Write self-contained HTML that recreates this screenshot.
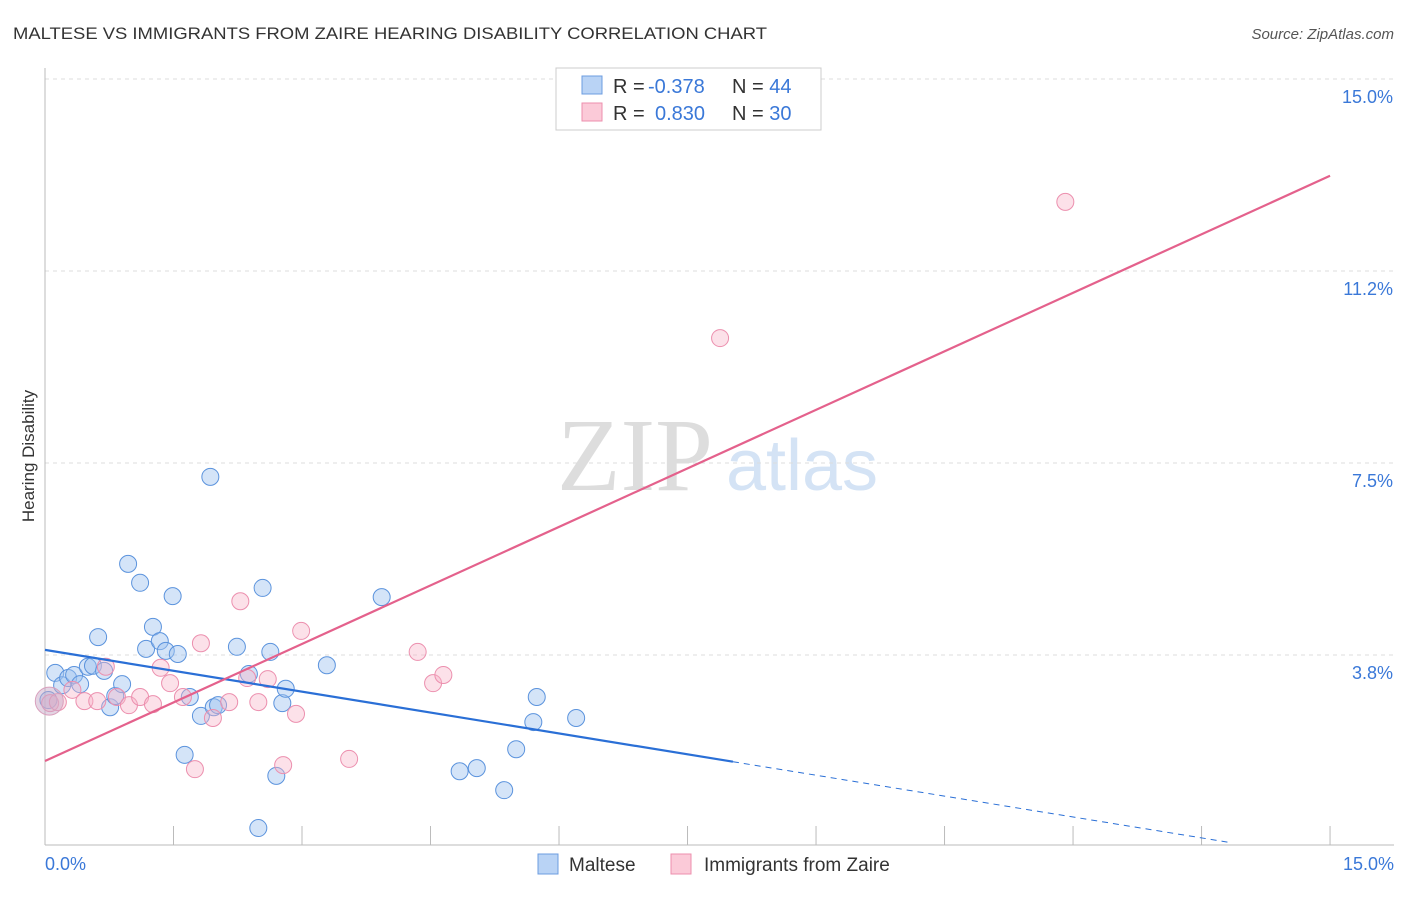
<!DOCTYPE html>
<html><head><meta charset="utf-8"><style>
body{margin:0;background:#fff;font-family:"Liberation Sans",sans-serif;}
</style></head><body>
<svg width="1406" height="892" xmlns="http://www.w3.org/2000/svg">
<text x="13" y="39" font-size="17" fill="#333" textLength="754" lengthAdjust="spacingAndGlyphs">MALTESE VS IMMIGRANTS FROM ZAIRE HEARING DISABILITY CORRELATION CHART</text>
<text x="1394" y="39" font-size="15" fill="#555" text-anchor="end" font-style="italic">Source: ZipAtlas.com</text>
<text x="635" y="490" font-size="104" fill="#ddd" font-family="Liberation Serif,serif" text-anchor="middle">ZIP</text>
<text x="802" y="490" font-size="72" fill="#d4e3f5" text-anchor="middle">atlas</text>
<g id="grid"></g>
<line x1="45" y1="68" x2="45" y2="845" stroke="#bbb"/>
<line x1="45" y1="845" x2="1394" y2="845" stroke="#bbb"/>
<g id="xticks"></g>
<text x="45" y="870" font-size="18" fill="#3a78d8">0.0%</text>
<text x="1394" y="870" font-size="18" fill="#3a78d8" text-anchor="end">15.0%</text>
<text transform="translate(34,456) rotate(-90)" font-size="17" fill="#333" text-anchor="middle">Hearing Disability</text>
<g id="pts"></g>
<g id="lines"></g>
<g>
<rect x="556" y="68" width="265" height="62" fill="#fff" stroke="#ccc"/>
<rect x="582" y="76" width="20" height="18" fill="#b9d3f5" stroke="#6c9de0"/>
<rect x="582" y="103" width="20" height="18" fill="#fbcad8" stroke="#ec8fae"/>
<text x="613" y="93" font-size="20" fill="#333">R = <tspan x="648" fill="#3a78d8">-0.378</tspan><tspan x="732">N = </tspan><tspan fill="#3a78d8">44</tspan></text>
<text x="613" y="120" font-size="20" fill="#333">R = <tspan x="655" fill="#3a78d8">0.830</tspan><tspan x="732">N = </tspan><tspan fill="#3a78d8">30</tspan></text>
</g>
<g>
<rect x="538" y="854" width="20" height="20" fill="#b9d3f5" stroke="#6c9de0"/>
<text x="569" y="871" font-size="19" fill="#333">Maltese</text>
<rect x="671" y="854" width="20" height="20" fill="#fbcad8" stroke="#ec8fae"/>
<text x="704" y="871" font-size="19" fill="#333">Immigrants from Zaire</text>
</g>
</svg>
<script>
const yTicks=[3.8,7.5,11.2,15.0];
const yTickVals=[3.75,7.5,11.25,15];
const blueX=[0.12,0.20,0.27,0.34,0.41,0.50,0.56,0.62,0.69,0.76,0.82,0.90,0.97,1.11,1.18,1.26,1.34,1.41,1.49,1.55,1.63,1.69,1.82,1.93,1.97,2.02,2.24,2.38,2.49,2.54,2.63,2.70,2.77,2.81,3.29,3.93,4.84,5.04,5.36,5.50,5.70,5.74,6.20,0.04];
const blueY=[3.40,3.16,3.30,3.36,3.18,3.52,3.54,4.10,3.44,2.73,2.95,3.18,5.53,5.16,3.87,4.30,4.02,3.83,4.90,3.77,1.80,2.93,2.56,7.23,2.73,2.77,3.91,3.38,0.37,5.06,3.81,1.39,2.81,3.09,3.55,4.88,1.48,1.54,1.11,1.91,2.44,2.93,2.52,2.87];
const pinkX=[0.06,0.15,0.32,0.46,0.61,0.71,0.84,0.98,1.11,1.26,1.35,1.46,1.61,1.75,1.82,1.96,2.15,2.28,2.36,2.49,2.60,2.78,2.93,2.99,3.55,4.35,4.53,4.65,7.88,11.91];
const pinkY=[2.81,2.83,3.07,2.85,2.85,3.52,2.93,2.77,2.93,2.79,3.50,3.20,2.93,1.52,3.98,2.52,2.83,4.80,3.30,2.83,3.28,1.60,2.60,4.22,1.72,3.81,3.20,3.36,9.94,12.60];
const blueTrend=[3.85,-0.272];
const pinkTrend=[1.68,0.762];
const NS="http://www.w3.org/2000/svg";
const xs=v=>45+v*85.67, ys=v=>847-v*51.2;
function mk(t,a,p){const e=document.createElementNS(NS,t);for(const k in a)e.setAttribute(k,a[k]);p.appendChild(e);return e;}
const grid=document.getElementById('grid');
yTickVals.forEach((v,i)=>{
 const l=mk('line',{x1:45,x2:1394,y1:ys(v),y2:ys(v),stroke:'#ddd','stroke-dasharray':'4,4'},grid);
 
 
 const t=mk('text',{x:1393,y:ys(v)+24,'font-size':18,fill:'#3a78d8','text-anchor':'end'},grid);
 t.textContent=yTicks[i].toFixed(1)+'%';
 
 
});
const xt=document.getElementById('xticks');
for(let i=1;i<=10;i++){const l=mk('line',{x1:xs(i*1.5),x2:xs(i*1.5),y1:826,y2:845,stroke:'#bbb'},xt);
 
 }
const pts=document.getElementById('pts');
blueX.forEach((x,i)=>{const c=mk('circle',{cx:xs(x),cy:ys(blueY[i]),r:8.5,fill:'rgba(160,196,240,0.45)',stroke:'#5b93dd','stroke-width':1},pts);
 
 });
pinkX.forEach((x,i)=>{const c=mk('circle',{cx:xs(x),cy:ys(pinkY[i]),r:8.5,fill:'rgba(248,180,200,0.4)',stroke:'#ec8fae','stroke-width':1},pts);
 
 });
const big=mk('circle',{cx:xs(0.05),cy:ys(2.85),r:14,fill:'rgba(200,170,200,0.5)',stroke:'#d9a0bd'},pts);


const ln=document.getElementById('lines');
const bl=mk('line',{x1:xs(0),y1:ys(blueTrend[0]),x2:xs(8.03),y2:ys(blueTrend[0]+blueTrend[1]*8.03),stroke:'#2a6fd6','stroke-width':2.2},ln);


const bd=mk('line',{x1:xs(8.03),y1:ys(blueTrend[0]+blueTrend[1]*8.03),x2:xs(13.85),y2:ys(blueTrend[0]+blueTrend[1]*13.85),stroke:'#2a6fd6','stroke-width':1,'stroke-dasharray':'6,5'},ln);


const pl=mk('line',{x1:xs(0),y1:ys(pinkTrend[0]),x2:xs(15),y2:ys(pinkTrend[0]+pinkTrend[1]*15),stroke:'#e4618c','stroke-width':2.2},ln);


</script>
</body></html>
